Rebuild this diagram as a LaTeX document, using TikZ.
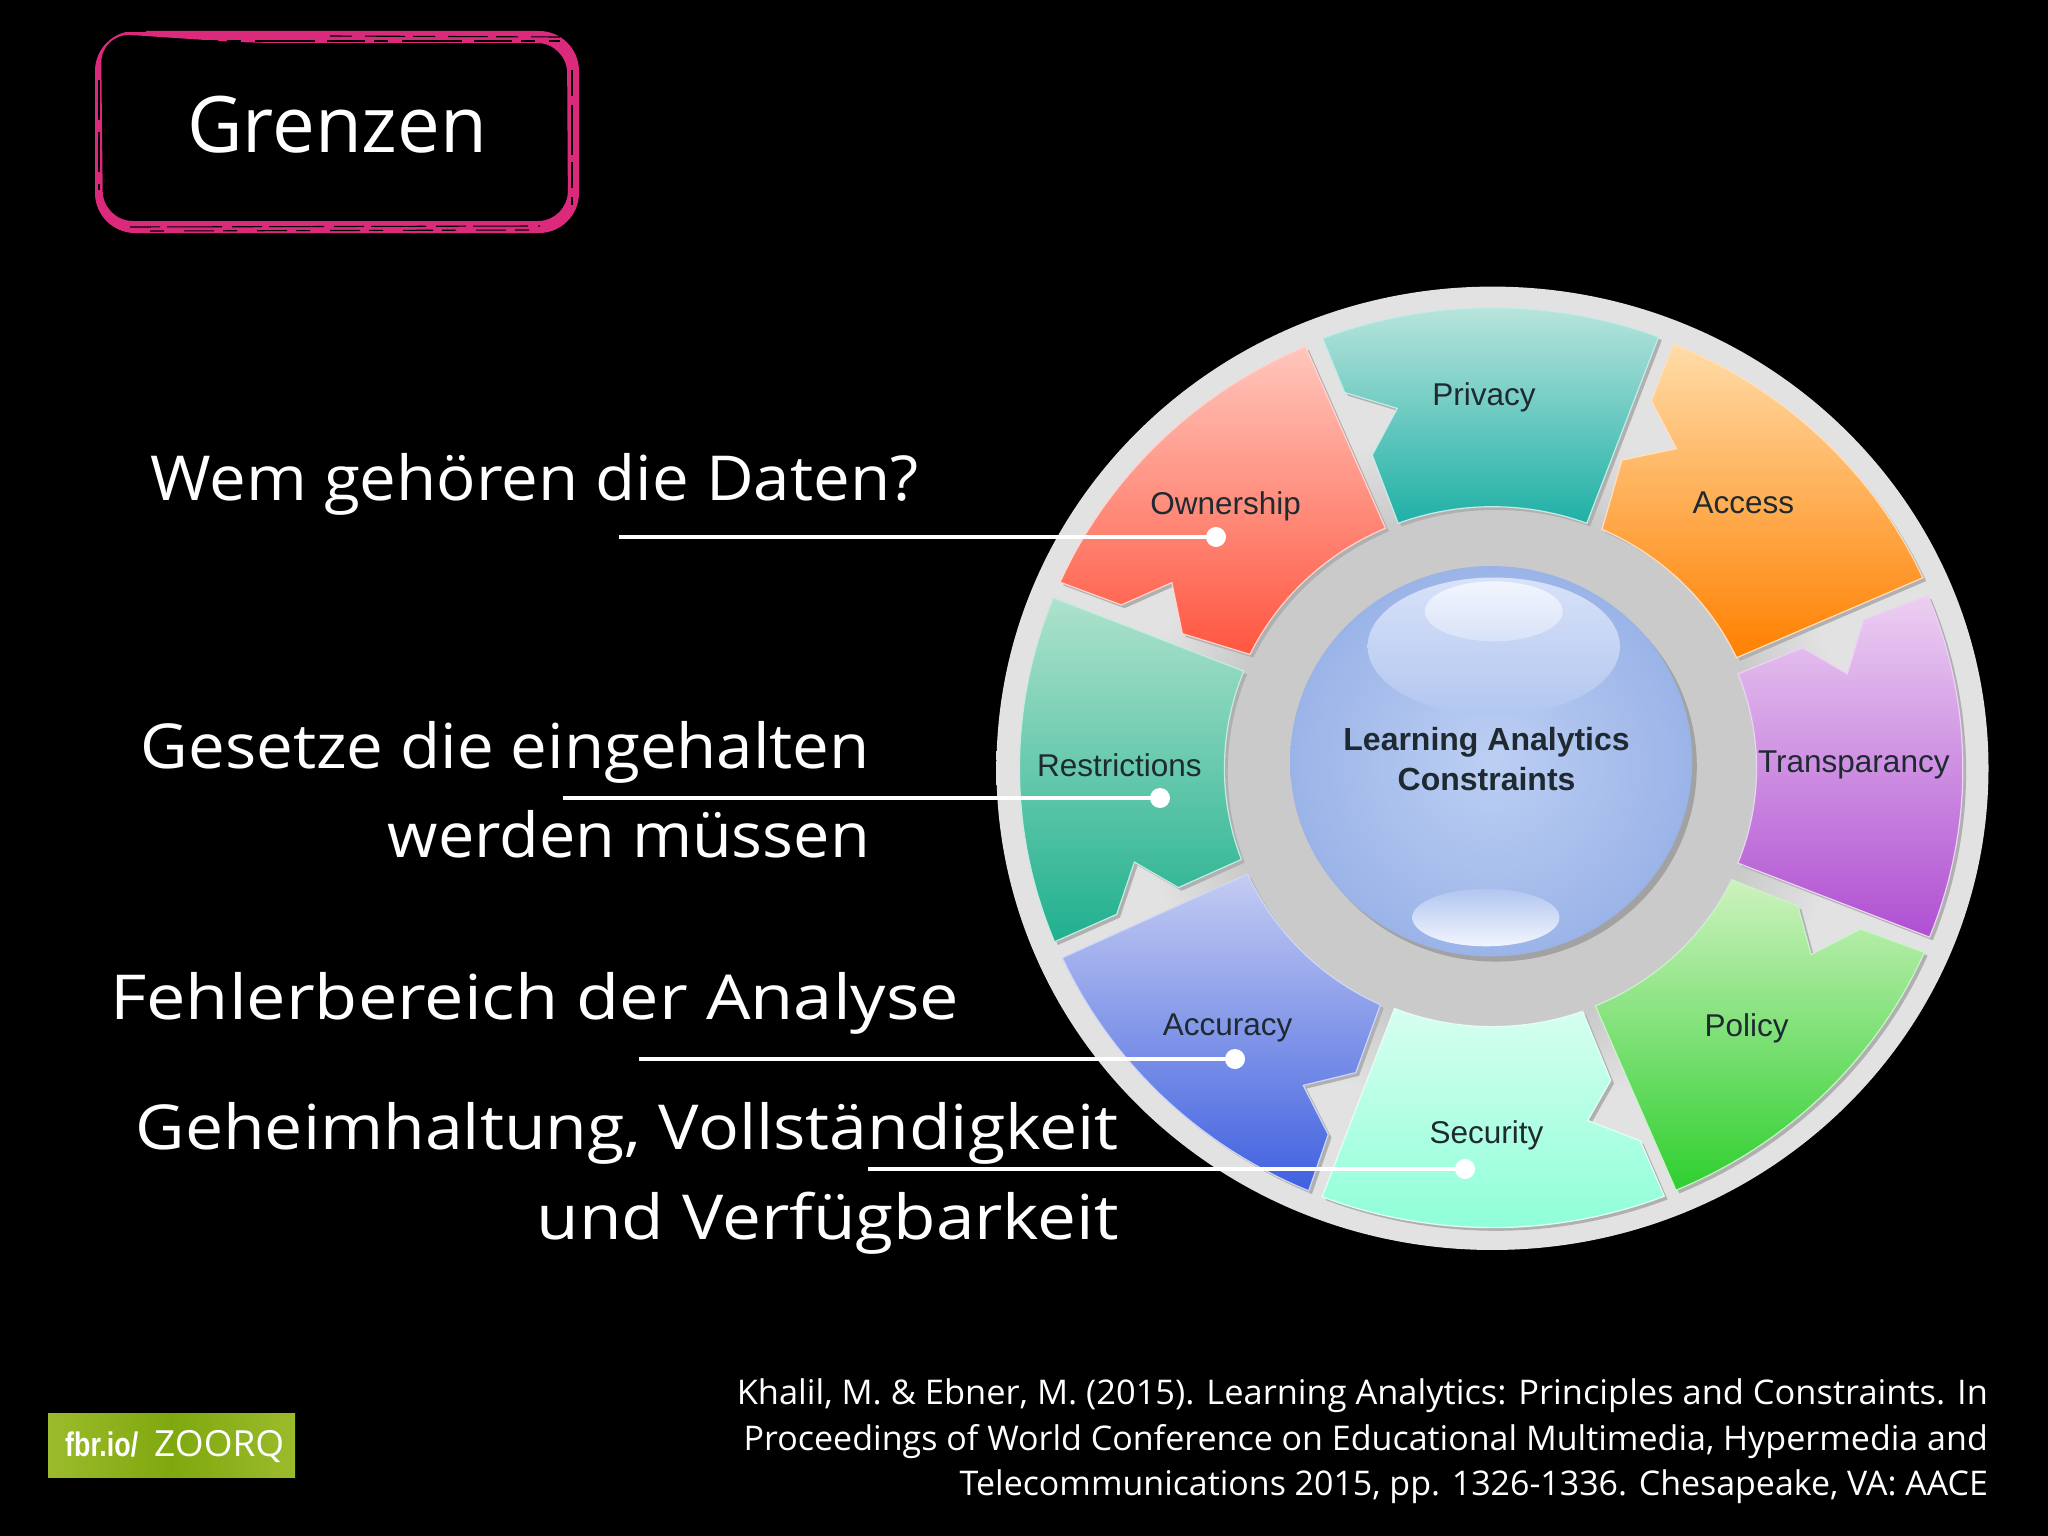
\documentclass[tikz,border=0pt]{standalone}
\usepackage{fontspec}
\usepackage{graphicx}
\setmainfont{Liberation Sans}
\newfontfamily\handfont{Open Sans}
\definecolor{framepink}{HTML}{DB2A7C}
\definecolor{discin}{HTML}{CACACA}
\definecolor{discout}{HTML}{E2E2E2}
\definecolor{shadegray}{HTML}{B0B0B0}
\definecolor{sphshadow}{HTML}{A2A2A2}
\definecolor{labelink}{HTML}{1E2A30}
\definecolor{privT}{HTML}{B8E4DC}\definecolor{privB}{HTML}{1FB0A6}
\definecolor{accT}{HTML}{FFDCA8}\definecolor{accB}{HTML}{FF8000}
\definecolor{traT}{HTML}{ECCFF2}\definecolor{traB}{HTML}{B04FD2}
\definecolor{polT}{HTML}{CDF2BE}\definecolor{polB}{HTML}{2FCF2F}
\definecolor{secT}{HTML}{D6FFF0}\definecolor{secB}{HTML}{8FFFD8}
\definecolor{accuT}{HTML}{C4CCF2}\definecolor{accuB}{HTML}{3F60E0}
\definecolor{resT}{HTML}{AEE2CC}\definecolor{resB}{HTML}{1FB08E}
\definecolor{ownT}{HTML}{FFC6BC}\definecolor{ownB}{HTML}{FF5640}
\definecolor{sphO}{HTML}{9BB4E8}\definecolor{sphI}{HTML}{BCCFF3}
\definecolor{hlA}{HTML}{D8E2F8}\definecolor{hlB}{HTML}{B2C6F0}
\definecolor{hlC}{HTML}{F2F5FD}
\definecolor{badgeA}{HTML}{9CBB2C}\definecolor{badgeB}{HTML}{7FA80E}
\pgfdeclareradialshading{discshade}{\pgfpointorigin}{color(0bp)=(discin);color(13.5bp)=(discin);color(18bp)=(discout);color(50bp)=(discout)}
\tikzset{
  wedgelabel/.style={text=labelink,inner sep=0pt,font=\fontsize{31.5}{36}\selectfont},
  corelabel/.style={text=labelink,inner sep=0pt,font=\fontsize{32}{38}\selectfont\bfseries},
  handline/.style={text=white,inner sep=0pt,font=\fontsize{62}{70}\selectfont\handfont},
  citeline/.style={text=white,inner sep=0pt,font=\fontsize{34}{40}\selectfont\handfont},
  leader/.style={draw=white,line width=4pt},
  leaderdot/.style={circle,fill=white,minimum size=20pt,inner sep=0pt},
  scratch/.style={draw=black,line width=1.1pt},
}
% one wheel segment: top colour, bottom colour, outer arc from/to/radius, inner arc from/to/radius, notch points
\newcommand\wheelseg[9]{%
  \fill[shadegray,shift={(5,5)}]
    plot[domain=#3:#4,samples=30,variable=\ang]({780+#5*cos(\ang)},{781-#5*sin(\ang)})
    -- plot[domain=#6:#7,samples=30,variable=\ang]({780+#8*cos(\ang)},{781-#8*sin(\ang)})
    #9 -- cycle;
  \path[top color=#1,bottom color=#2,draw=white!75!#2,line width=1.2pt]
    plot[domain=#3:#4,samples=30,variable=\ang]({780+#5*cos(\ang)},{781-#5*sin(\ang)})
    -- plot[domain=#6:#7,samples=30,variable=\ang]({780+#8*cos(\ang)},{781-#8*sin(\ang)})
    #9 -- cycle;
}
\begin{document}
\begin{tikzpicture}[x=1pt,y=-1pt]
\useasboundingbox (0,0) rectangle (2048,1536);
\fill[black] (0,0) rectangle (2048,1536);

% title frame: a pink band, thin at the upper left, with brush scratches
\fill[framepink,even odd rule]
  [rounded corners=40pt] (95,31) -- (579,31) -- (579,233) -- (95,233) -- cycle
  [rounded corners=30pt] (101,33) -- (250,43) -- (567,43) -- (568,221) -- (103,221) -- cycle;
\fill[black] (90,25) rectangle (146,32);
\draw[scratch,dash pattern=on 38pt off 9pt on 14pt off 14pt on 60pt off 12pt] (180,41) -- (560,41);
\draw[scratch,dash pattern=on 22pt off 13pt on 40pt off 8pt] (330,36) -- (560,37);
\draw[scratch,dash pattern=on 30pt off 7pt on 55pt off 10pt] (130,227) -- (540,226);
\draw[scratch,dash pattern=on 14pt off 20pt on 30pt off 9pt] (150,231) -- (530,230);
\draw[scratch,dash pattern=on 26pt off 9pt on 50pt off 7pt] (572,70) -- (572,205);
\draw[scratch,dash pattern=on 40pt off 12pt] (99,80) -- (99,190);
\node[handline,font=\fontsize{78}{86}\selectfont\handfont,anchor=base west] (title) at (187,153) {\resizebox{300pt}{\height}{Grenzen}};

% wheel, in its own coordinates
\begin{scope}[shift={(980,270)},x=0.657pt,y=-0.638pt]
\shade[shading=discshade] (780,781) circle[radius=755];
\wheelseg{privT}{privB}{111}{69.5}{722}{69.5}{110.5}{410}{-- (597,290) -- (635,217) -- (555,192)}
\wheelseg{accT}{accB}{67.5}{24.5}{720}{25}{66}{410}{-- (977,298) -- (1060,280) -- (1022,205)}
\wheelseg{traT}{traB}{22.2}{-21.7}{716}{-21.7}{21.6}{402}{-- (1252,592) -- (1320,633) -- (1345,548)}
\wheelseg{polT}{polB}{-23.7}{-67.1}{718}{-67.2}{-25.6}{404}{-- (1245,997) -- (1265,1073) -- (1340,1033)}
\wheelseg{secT}{secB}{-68.7}{-111.1}{720}{-111.6}{-70.2}{405}{-- (960,1270) -- (925,1333) -- (1005,1365)}
\wheelseg{accuT}{accuB}{-112.9}{-155.6}{719}{-156}{-114.7}{408}{-- (572,1258) -- (492,1278) -- (530,1355)}
\wheelseg{resT}{resB}{202.2}{158.2}{720}{158.1}{200.5}{408}{-- (302,968) -- (235,928) -- (208,1010)}
\wheelseg{ownT}{ownB}{156.1}{113.3}{720}{113.4}{154.2}{410}{-- (308,570) -- (292,490) -- (215,525)}
% central sphere
\fill[sphshadow] (785,778) circle[radius=306];
\shade[inner color=sphI,outer color=sphO] (778,770) circle[radius=306];
\shade[top color=hlA,bottom color=hlB] (782,590) ellipse[x radius=192,y radius=108];
\shade[top color=hlC,bottom color=hlA] (782,535) ellipse[x radius=105,y radius=47];
\shade[top color=hlB,bottom color=hlC] (770,1015) ellipse[x radius=112,y radius=45];
% labels
\node[wedgelabel] (privacy) at (767,199) {Privacy};
\node[wedgelabel] (access) at (1162,365) {Access};
\node[wedgelabel] (ownership) at (374,371) {Ownership};
\node[wedgelabel] (restrictions) at (212,777) {Restrictions};
\node[wedgelabel] (transparancy) at (1330,776) {Transparancy};
\node[wedgelabel] (policy) at (1167,1188) {Policy};
\node[wedgelabel] (security) at (771,1356) {Security};
\node[wedgelabel] (accuracy) at (377,1188) {Accuracy};
\node[corelabel] (core1) at (771,741) {Learning Analytics};
\node[corelabel] (core2) at (771,798) {Constraints};
\end{scope}

% left-hand statements
\node[handline,anchor=base west] (q1) at (150,500) {\resizebox{768pt}{\height}{Wem gehören die Daten?}};
\node[handline,anchor=base east] (q2a) at (870,768) {\resizebox{729pt}{\height}{Gesetze die eingehalten}};
\node[handline,anchor=base east] (q2b) at (870,857) {\resizebox{482pt}{\height}{werden müssen}};
\node[handline,anchor=base west] (q3) at (110,1019) {\resizebox{849pt}{\height}{Fehlerbereich der Analyse}};
\node[handline,anchor=base east] (q4a) at (1119,1149) {\resizebox{983pt}{\height}{Geheimhaltung, Vollständigkeit}};
\node[handline,anchor=base east] (q4b) at (1119,1239) {\resizebox{582pt}{\height}{und Verfügbarkeit}};

% leaders
\coordinate (l1) at (619,537);
\coordinate (l2) at (563,798);
\coordinate (l3) at (639,1059);
\coordinate (l4) at (868,1169);
\node[leaderdot] (d1) at (1216,537) {};
\node[leaderdot] (d2) at (1160,798) {};
\node[leaderdot] (d3) at (1235,1059) {};
\node[leaderdot] (d4) at (1465,1169) {};
\draw[leader] (l1) -- (d1.center);
\draw[leader] (l2) -- (d2.center);
\draw[leader] (l3) -- (d3.center);
\draw[leader] (l4) -- (d4.center);

% citation
\node[citeline,anchor=base east] (c1) at (1988,1404) {\resizebox{1251pt}{\height}{Khalil, M. \& Ebner, M. (2015). Learning Analytics: Principles and Constraints. In}};
\node[citeline,anchor=base east] (c2) at (1988,1450) {\resizebox{1244pt}{\height}{Proceedings of World Conference on Educational Multimedia, Hypermedia and}};
\node[citeline,anchor=base east] (c3) at (1988,1495) {\resizebox{1028pt}{\height}{Telecommunications 2015, pp. 1326-1336. Chesapeake, VA: AACE}};

% badge
\shade[left color=badgeA,right color=badgeA,middle color=badgeB] (48,1413) rectangle (295,1477);
\node[text=white,inner sep=0pt,anchor=base west,font=\fontsize{34}{40}\selectfont\bfseries] (fbr) at (65,1456) {\resizebox{73pt}{\height}{fbr.io/}};
\node[text=white,inner sep=0pt,anchor=base west,font=\fontsize{36}{40}\selectfont\handfont] (zoorq) at (154,1456) {\resizebox{130pt}{\height}{ZOORQ}};
\end{tikzpicture}
\end{document}
